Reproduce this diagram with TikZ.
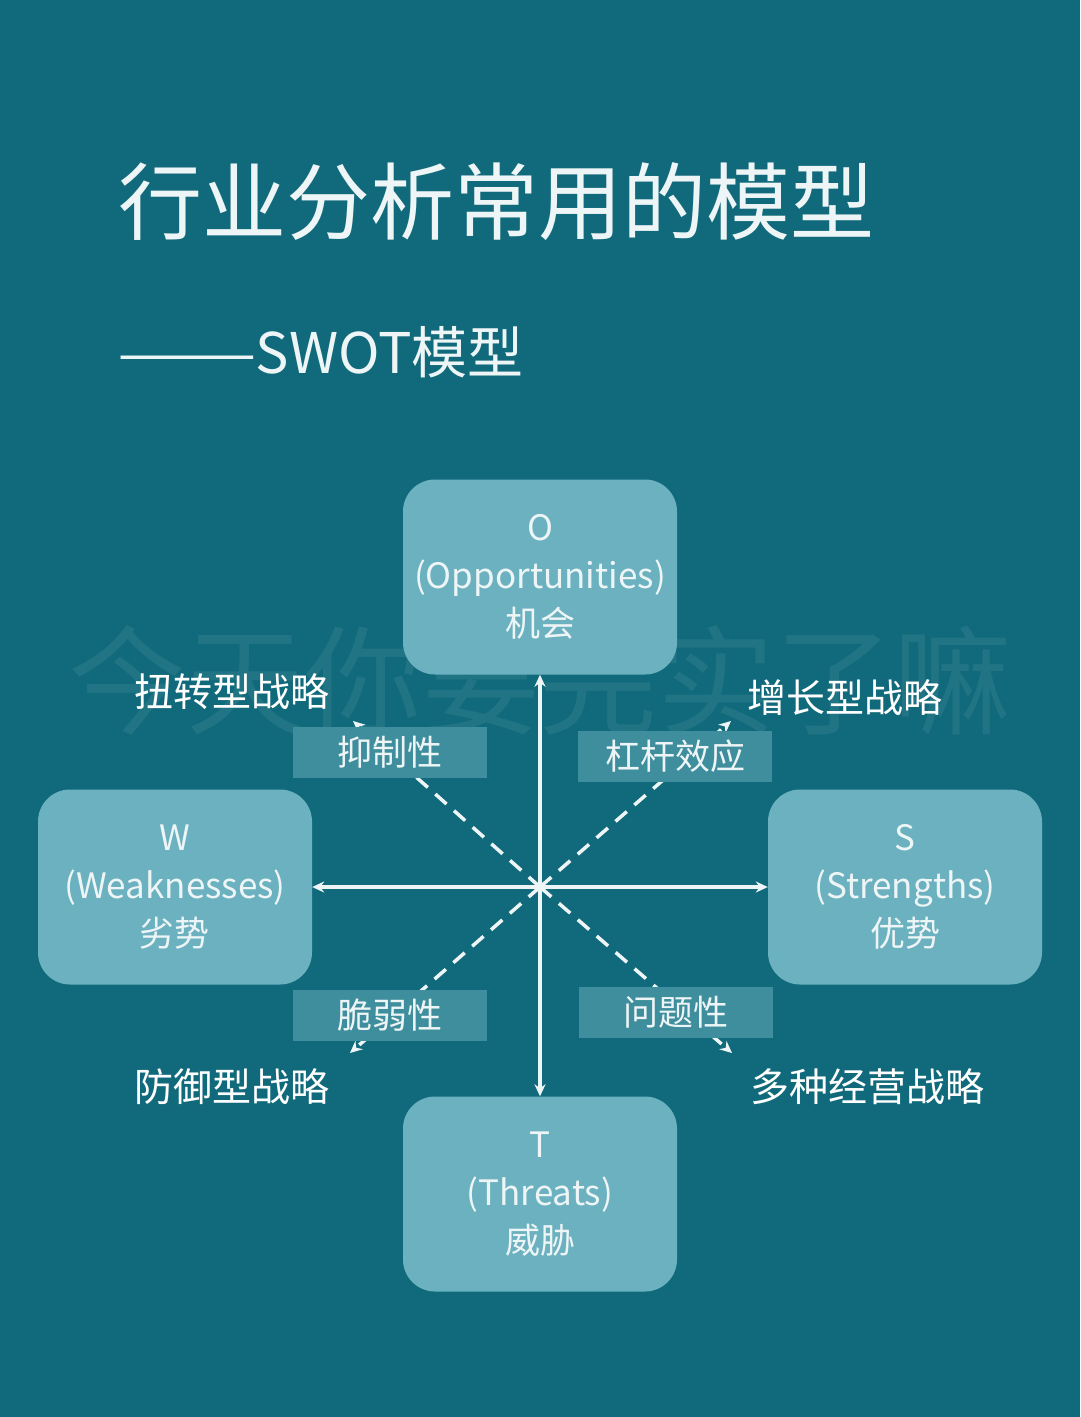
\documentclass[tikz,border=0pt]{standalone}
\usepackage{fontspec}
\setmainfont{Noto Sans CJK SC}
\usetikzlibrary{arrows.meta}
\definecolor{bg}{HTML}{116A7B}
\definecolor{boxc}{HTML}{6BB1BF}
\definecolor{labc}{HTML}{3F8E9D}
\definecolor{txt}{HTML}{EEF5F6}
\begin{document}
\begin{tikzpicture}[x=1pt,y=-1pt,
  swot/.style={fill=boxc,rounded corners=32pt,minimum width=274pt,minimum height=195pt,text=txt,align=center,font=\fontsize{35}{48}\selectfont,inner sep=0pt},
  lab/.style={fill=labc,minimum width=194pt,minimum height=51pt,text=txt,font=\fontsize{35}{40}\selectfont,inner sep=0pt},
  strat/.style={text=white,font=\fontsize{39}{42}\selectfont,inner sep=0pt},
  axis/.style={draw=txt,line width=3.5pt,-{Stealth[length=12pt,width=11pt]}},
  diag/.style={draw=txt,line width=3.5pt,dash pattern=on 15pt off 10pt,-{Stealth[length=12pt,width=11pt]}}]
\fill[bg] (0,0) rectangle (1080,1417);
\useasboundingbox (0,0) rectangle (1080,1417);
\node[text=white,opacity=0.07,font=\fontsize{118}{118}\selectfont] (wm) at (540,680) {今天你要完实了嘛};
\node[anchor=west,text=txt,font=\fontsize{84}{90}\selectfont,inner sep=0pt] (title) at (118,202) {行业分析常用的模型};
\node[anchor=west,text=txt,font=\fontsize{56}{60}\selectfont,inner sep=0pt] (sub) at (118,352) {———SWOT模型};
\node[swot] (O) at (540,577) {O\\(Opportunities)\\机会};
\node[swot] (W) at (175,887) {W\\(Weaknesses)\\劣势};
\node[swot] (S) at (905,887) {S\\(Strengths)\\优势};
\node[swot] (T) at (540,1194) {T\\(Threats)\\威胁};
\coordinate (c) at (540,887);
\coordinate (nw) at (353,721);
\coordinate (ne) at (731,721);
\coordinate (sw) at (350,1053);
\coordinate (se) at (732,1053);
\draw[diag] (c) -- (nw);
\draw[diag] (c) -- (ne);
\draw[diag] (c) -- (sw);
\draw[diag] (c) -- (se);
\node[lab] (l1) at (390,752) {抑制性};
\node[lab] (l2) at (675,756) {杠杆效应};
\node[lab] (l3) at (390,1015) {脆弱性};
\node[lab] (l4) at (676,1012) {问题性};
\draw[axis] (c) -- (O.south);
\draw[axis] (c) -- (T.north);
\draw[axis] (c) -- (W.east);
\draw[axis] (c) -- (S.west);
\node[strat] (s1) at (232,692) {扭转型战略};
\node[strat] (s2) at (845,698) {增长型战略};
\node[strat] (s3) at (232,1087) {防御型战略};
\node[strat] (s4) at (867,1087) {多种经营战略};
\end{tikzpicture}
\end{document}
